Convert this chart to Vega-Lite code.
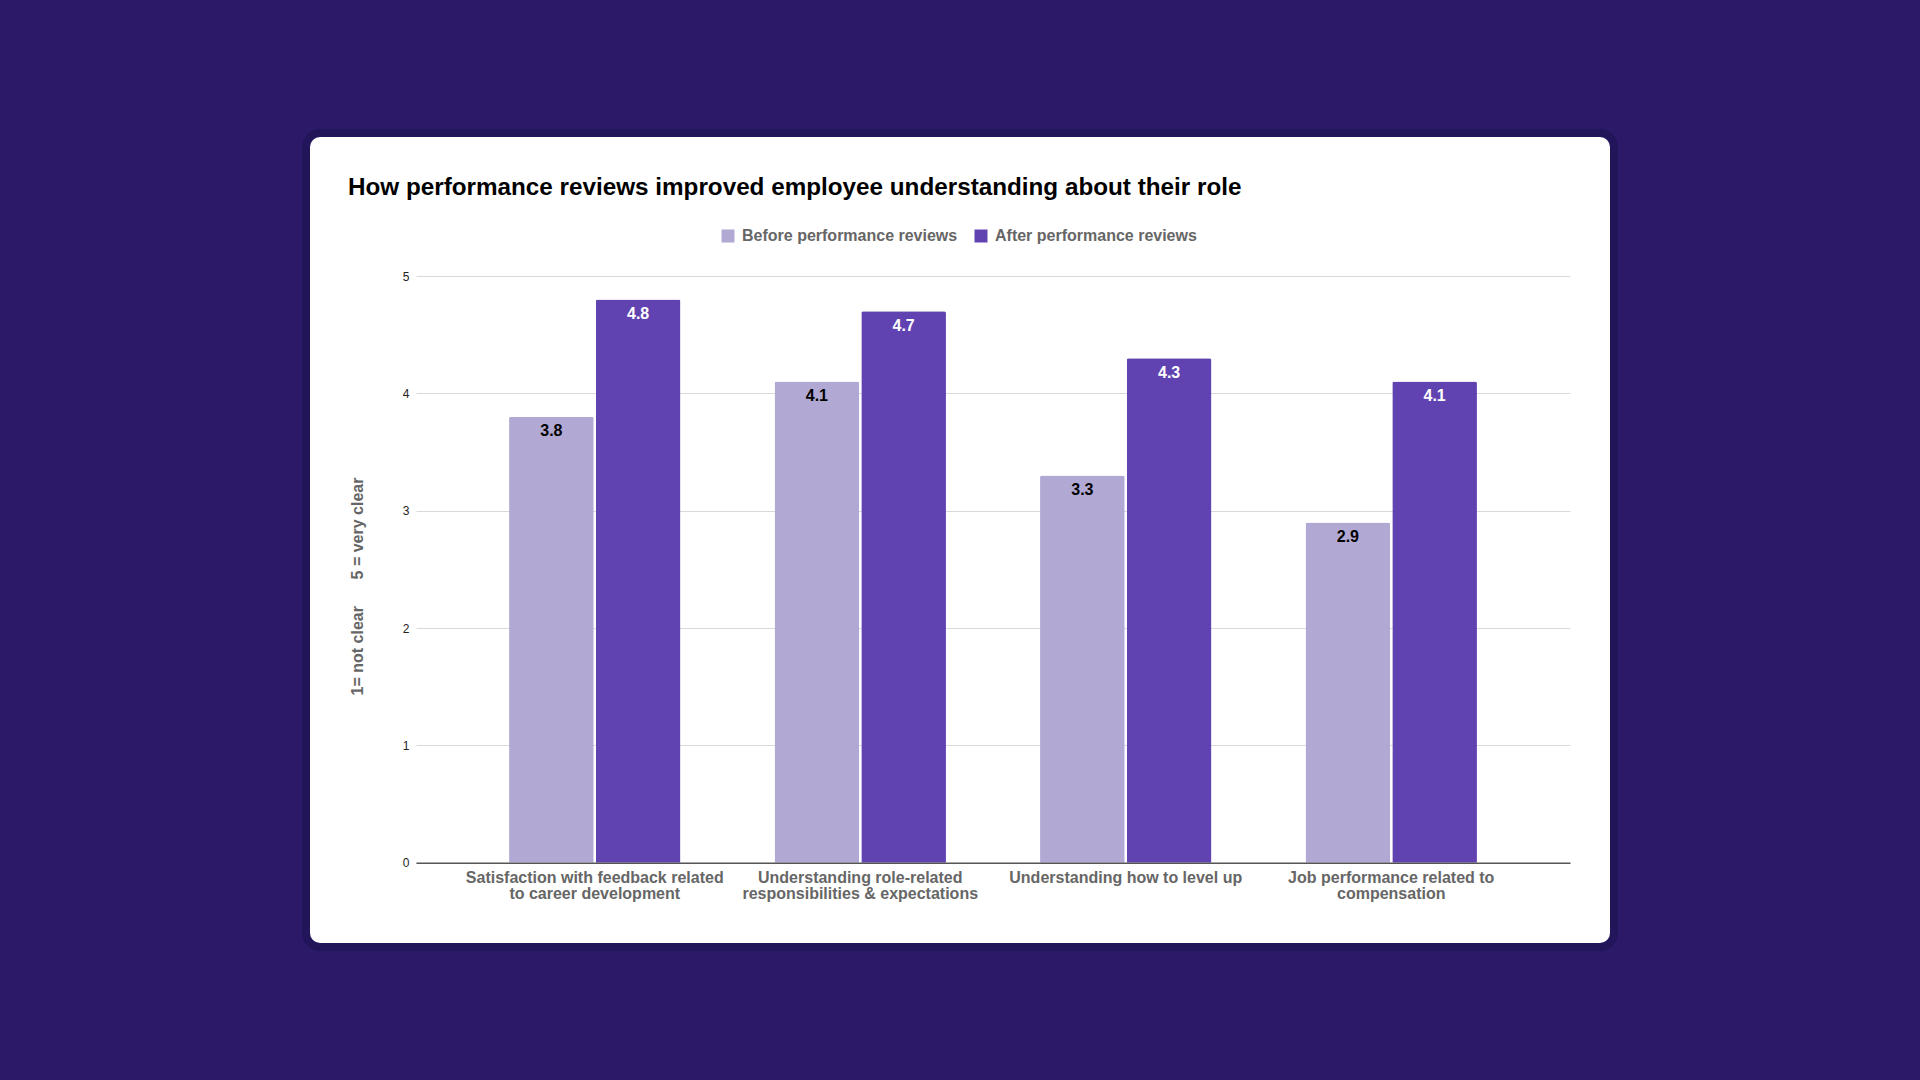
{
  "$schema": "https://vega.github.io/schema/vega-lite/v6.json",
  "width": 1308,
  "height": 814,
  "autosize": {"type": "none"},
  "padding": {"left": 306, "top": 133, "right": 306, "bottom": 133},
  "background": "#2c1a68",
  "title": {
    "text": "How performance reviews improved employee understanding about their role",
    "anchor": "start",
    "frame": "group",
    "dx": 42,
    "offset": -86,
    "baseline": "alphabetic",
    "font": "Liberation Sans",
    "fontSize": 24.25,
    "fontWeight": "bold",
    "color": "#000000"
  },
  "config": {
    "view": {"fill": "#ffffff", "stroke": "#23155a", "strokeWidth": 8, "cornerRadius": 14}
  },
  "data": {
    "values": [
      {"category": "Satisfaction with feedback related to career development", "series": "Before performance reviews", "score": 3.8},
      {"category": "Satisfaction with feedback related to career development", "series": "After performance reviews", "score": 4.8},
      {"category": "Understanding role-related responsibilities & expectations", "series": "Before performance reviews", "score": 4.1},
      {"category": "Understanding role-related responsibilities & expectations", "series": "After performance reviews", "score": 4.7},
      {"category": "Understanding how to level up", "series": "Before performance reviews", "score": 3.3},
      {"category": "Understanding how to level up", "series": "After performance reviews", "score": 4.3},
      {"category": "Job performance related to compensation", "series": "Before performance reviews", "score": 2.9},
      {"category": "Job performance related to compensation", "series": "After performance reviews", "score": 4.1}
    ]
  },
  "encoding": {
    "x": {
      "field": "category",
      "type": "nominal",
      "sort": null,
      "scale": {"range": [110, 1264], "paddingInner": 0.3544, "paddingOuter": 0.3505},
      "axis": {
        "title": null,
        "orient": "bottom",
        "offset": -84.3,
        "zindex": 1,
        "domainColor": "#555555",
        "domainWidth": 1.5,
        "ticks": false,
        "tickSize": 0,
        "grid": false,
        "labelPadding": 7,
        "labelAngle": 0,
        "labelFont": "Liberation Sans",
        "labelFontSize": 16,
        "labelFontWeight": "bold",
        "labelColor": "#666666",
        "labelLineHeight": 16,
        "labelLimit": 400,
        "labelExpr": "datum.value == 'Satisfaction with feedback related to career development' ? ['Satisfaction with feedback related', 'to career development'] : datum.value == 'Understanding role-related responsibilities & expectations' ? ['Understanding role-related', 'responsibilities & expectations'] : datum.value == 'Job performance related to compensation' ? ['Job performance related to', 'compensation'] : datum.value"
      }
    },
    "xOffset": {
      "field": "series",
      "type": "nominal",
      "sort": ["Before performance reviews", "After performance reviews"],
      "scale": {"paddingInner": 0.024, "paddingOuter": 0}
    },
    "y": {
      "field": "score",
      "type": "quantitative",
      "scale": {"domain": [0, 5], "range": [729.7, 143], "nice": false, "zero": true},
      "axis": {
        "title": "1= not clear\u00a0\u00a0\u00a0\u00a0\u00a0\u00a05 = very clear",
        "offset": -110,
        "values": [0, 1, 2, 3, 4, 5],
        "domain": false,
        "ticks": false,
        "tickSize": 0,
        "labelPadding": 7,
        "labelFont": "Liberation Sans",
        "labelFontSize": 12,
        "labelColor": "#222222",
        "gridColor": "#d9d9d9",
        "gridWidth": 1,
        "titleFont": "Liberation Sans",
        "titleFontSize": 16,
        "titleFontWeight": "bold",
        "titleColor": "#666666",
        "titleAngle": -90,
        "titleX": -59,
        "titleY": 453,
        "titleAlign": "center",
        "titleBaseline": "middle",
        "titlePadding": 0
      }
    }
  },
  "layer": [
    {
      "mark": {"type": "bar", "cornerRadiusTopLeft": 2, "cornerRadiusTopRight": 2},
      "encoding": {
        "color": {
          "field": "series",
          "type": "nominal",
          "scale": {
            "domain": ["Before performance reviews", "After performance reviews"],
            "range": ["#b1a9d3", "#6043b0"]
          },
          "legend": {
            "title": null,
            "orient": "none",
            "legendX": 414,
            "legendY": 95,
            "direction": "horizontal",
            "padding": 0,
            "symbolType": "square",
            "symbolSize": 169,
            "symbolStrokeWidth": 0,
            "symbolOpacity": 1,
            "labelFont": "Liberation Sans",
            "labelFontSize": 16,
            "labelFontWeight": "bold",
            "labelColor": "#666666",
            "labelOffset": 6,
            "columnPadding": 15,
            "labelLimit": 400
          }
        }
      }
    },
    {
      "mark": {
        "type": "text",
        "baseline": "middle",
        "dy": 14.5,
        "font": "Liberation Sans",
        "fontSize": 16,
        "fontWeight": "bold"
      },
      "encoding": {
        "text": {"field": "score", "type": "quantitative", "format": ".1f"},
        "color": {
          "condition": {"test": "datum.series === 'After performance reviews'", "value": "#ffffff"},
          "value": "#000000"
        }
      }
    }
  ]
}
